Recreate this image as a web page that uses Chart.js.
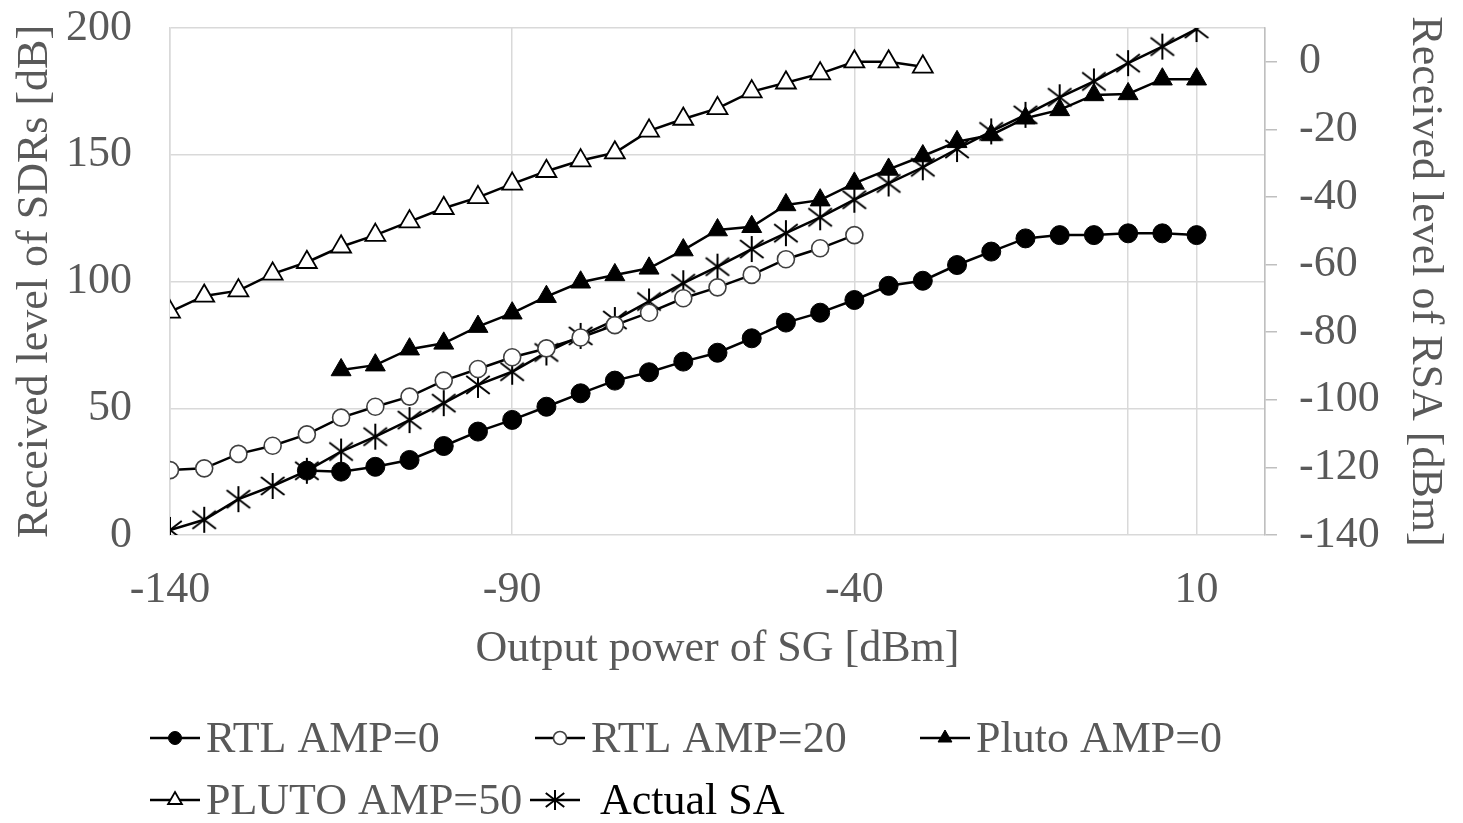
<!DOCTYPE html>
<html>
<head>
<meta charset="utf-8">
<script src="https://cdn.jsdelivr.net/npm/chart.js@4/dist/chart.umd.min.js"></script>
<style>
  html, body { margin: 0; padding: 0; background: #fff; }
  canvas { display: block; }
</style>
</head>
<body>
<canvas id="chart" width="1463" height="823"></canvas>
<script>
// SG output power [dBm] (x)
const sgPower = [-140, -135, -130, -125, -120, -115, -110, -105, -100, -95, -90, -85, -80, -75, -70,
  -65, -60, -55, -50, -45, -40, -35, -30, -25, -20, -15, -10, -5, 0, 5, 10];

// received level of SDRs [dB] (left axis)
const rtlAmp0 = [null, null, null, null, 25.4, 25, 26.9, 29.6, 35.1, 40.8, 45.4, 50.6, 55.9, 60.9, 64.2,
  68.4, 71.9, 77.6, 83.8, 87.7, 92.7, 98.3, 100.3, 106.5, 111.8, 117, 118.3, 118.3, 119, 119, 118.3];
const rtlAmp20 = [25.6, 26.3, 32, 35.2, 39.7, 46.3, 50.6, 54.6, 60.9, 65.5, 70.1, 73.6, 77.9, 82.8, 87.7,
  93.4, 97.7, 102.6, 108.8, 113.1, 118.3, null, null, null, null, null, null, null, null, null, null];
const plutoAmp0 = [null, null, null, null, null, 65.1, 67, 73.3, 75.6, 82.2, 87.5, 94, 99.7, 102.6, 105.2,
  112.4, 120.3, 121.6, 130.2, 132.1, 138.7, 144.2, 149.5, 155.1, 157.8, 164.4, 167.7, 173.6, 174, 179.8, 179.8];
const plutoAmp50 = [88, 94.3, 96.4, 103, 107.6, 113.7, 118.3, 123.6, 128.9, 133.2, 138.5, 143.5, 147.7, 150.8, 159.4,
  164.1, 168.3, 174.9, 178.4, 182, 186.7, 186.7, 184.7, null, null, null, null, null, null, null, null];

// received level of RSA [dBm] (right axis)
const actualSA = [-138.5, -135.5, -129.4, -125.5, -121, -115.3, -110.9, -106, -101, -95.6, -91.7, -86, -81.1, -76.4, -70.9,
  -65.5, -60.6, -55.4, -50.7, -46, -40.8, -36, -31.2, -25.8, -20.6, -15.7, -10.5, -5.8, -0.4, 4.5, 9.7];

const seriesNames = ['RTL AMP=0', 'RTL AMP=20', 'Pluto AMP=0', 'PLUTO AMP=50', 'Actual SA'];

// axis ticks
const xGridTicks = [-140, -90, -40, 0, 10, 20];
const xTickLabels = [-140, -90, -40, 10];
const rightTicks = [-140, -120, -100, -80, -60, -40, -20, 0];

const FONT = '"Liberation Serif", "Times New Roman", serif';
const GREY = '#595959';
const FS = 44;

// asterisk marker (X plus vertical bar)
function makeAsterisk(size, lw) {
  const c = document.createElement('canvas');
  c.width = size; c.height = size;
  const g = c.getContext('2d');
  const m = size / 2;
  g.strokeStyle = '#000';
  g.lineWidth = lw;
  g.beginPath();
  g.moveTo(m, 1); g.lineTo(m, size - 1);
  g.moveTo(m - size * 0.42, m - size * 0.32); g.lineTo(m + size * 0.42, m + size * 0.32);
  g.moveTo(m + size * 0.42, m - size * 0.32); g.lineTo(m - size * 0.42, m + size * 0.32);
  g.stroke();
  return c;
}
const asterisk = makeAsterisk(28, 2);
const asteriskSmall = makeAsterisk(22, 2);

// legend laid out in fixed columns like the original
const legendSlots = [[150, 738], [535, 738], [920, 738], [150, 800], [530, 800]];
const legendText = [GREY, GREY, GREY, GREY, '#000'];

const columnLegend = {
  id: 'columnLegend',
  afterDraw(chart) {
    const ctx = chart.ctx;
    chart.data.datasets.forEach((ds, i) => {
      const [x, y] = legendSlots[i];
      const mx = x + 25;
      ctx.save();
      ctx.strokeStyle = '#000';
      ctx.lineWidth = 2.5;
      ctx.beginPath();
      ctx.moveTo(x, y); ctx.lineTo(x + 50, y);
      ctx.stroke();

      ctx.fillStyle = ds.pointBackgroundColor;
      ctx.strokeStyle = ds.pointBorderColor;
      ctx.lineWidth = ds.pointBorderWidth;
      if (ds.pointStyle === 'circle') {
        ctx.beginPath();
        ctx.arc(mx, y, 6.5, 0, Math.PI * 2);
        ctx.fill(); ctx.stroke();
      } else if (ds.pointStyle === 'triangle') {
        const r = 8;
        ctx.beginPath();
        ctx.moveTo(mx, y - r);
        ctx.lineTo(mx + r * 0.866, y + r / 2);
        ctx.lineTo(mx - r * 0.866, y + r / 2);
        ctx.closePath();
        ctx.fill(); ctx.stroke();
      } else {
        ctx.drawImage(asteriskSmall, mx - 11, y - 11);
      }

      ctx.fillStyle = legendText[i];
      ctx.font = FS + 'px ' + FONT;
      ctx.textBaseline = 'middle';
      ctx.fillText(ds.label, x + 56 + (i === 4 ? 14 : 0), y + 2);
      ctx.restore();
    });
  }
};

function series(label, values, style, axis) {
  return Object.assign({
    label: label,
    data: values,
    yAxisID: axis,
    borderColor: '#000',
    borderWidth: 2.5,
    tension: 0,
    fill: false
  }, style);
}

const datasets = [
  series(seriesNames[0], rtlAmp0, {
    pointStyle: 'circle', pointRadius: 9.5, pointBackgroundColor: '#000', pointBorderColor: '#000', pointBorderWidth: 1
  }, 'y'),
  series(seriesNames[1], rtlAmp20, {
    pointStyle: 'circle', pointRadius: 8.5, pointBackgroundColor: '#fff', pointBorderColor: '#404040', pointBorderWidth: 1.6
  }, 'y'),
  series(seriesNames[2], plutoAmp0, {
    pointStyle: 'triangle', pointRadius: 11.5, pointBackgroundColor: '#000', pointBorderColor: '#000', pointBorderWidth: 1
  }, 'y'),
  series(seriesNames[3], plutoAmp50, {
    pointStyle: 'triangle', pointRadius: 11.5, pointBackgroundColor: '#fff', pointBorderColor: '#000', pointBorderWidth: 1.8
  }, 'y'),
  series(seriesNames[4], actualSA, {
    pointStyle: asterisk, pointRadius: 13, pointBackgroundColor: '#000', pointBorderColor: '#000', pointBorderWidth: 1
  }, 'y2')
];

// fixed axis box sizes so the plot area sits where the original's does
function fixBox(size) {
  return s => {
    if (s.isHorizontal()) s.height = size; else s.width = size;
    s.paddingTop = 0; s.paddingBottom = 0;
    s.paddingLeft = 0; s.paddingRight = 0;
  };
}

new Chart(document.getElementById('chart'), {
  type: 'line',
  data: { labels: sgPower, datasets: datasets },
  options: {
    responsive: false,
    animation: false,
    layout: { padding: { top: 28, bottom: 130, left: 0, right: 0 } },
    plugins: {
      legend: { display: false },
      tooltip: { enabled: false }
    },
    scales: {
      x: {
        type: 'linear',
        min: -140,
        max: 20,
        afterBuildTicks: s => { s.ticks = xGridTicks.map(v => ({ value: v })); },
        afterFit: fixBox(158),
        grid: { color: '#d9d9d9', lineWidth: 1.5, drawTicks: false },
        border: { display: false },
        ticks: {
          padding: 29,
          color: GREY,
          font: { family: FONT, size: FS },
          maxRotation: 0,
          autoSkip: false,
          callback: v => xTickLabels.includes(v) ? String(v) : ''
        },
        title: {
          display: true,
          text: 'Output power of SG [dBm]',
          color: GREY,
          font: { family: FONT, size: FS },
          padding: { top: 0, bottom: 17 }
        }
      },
      y: {
        position: 'left',
        min: 0,
        max: 200,
        afterFit: fixBox(170),
        grid: { color: '#d9d9d9', lineWidth: 1.5, drawTicks: false },
        border: { color: '#d9d9d9', width: 1.5 },
        ticks: {
          stepSize: 50,
          padding: 38,
          color: GREY,
          font: { family: FONT, size: FS }
        },
        title: {
          display: true,
          text: 'Received level of SDRs [dB]',
          color: GREY,
          font: { family: FONT, size: FS },
          padding: { top: 9, bottom: 0 }
        }
      },
      y2: {
        position: 'right',
        min: -140,
        max: 10,
        afterBuildTicks: s => { s.ticks = rightTicks.map(v => ({ value: v })); },
        afterFit: fixBox(198),
        grid: { drawOnChartArea: false, color: '#bfbfbf', lineWidth: 1.5, tickLength: 12 },
        border: { color: '#bfbfbf', width: 1.5 },
        ticks: {
          padding: 22,
          color: GREY,
          font: { family: FONT, size: FS }
        },
        title: {
          display: true,
          text: 'Received level of RSA [dBm]',
          color: GREY,
          font: { family: FONT, size: FS },
          padding: { top: 12, bottom: 0 }
        }
      }
    }
  },
  plugins: [columnLegend]
});
</script>
</body>
</html>
